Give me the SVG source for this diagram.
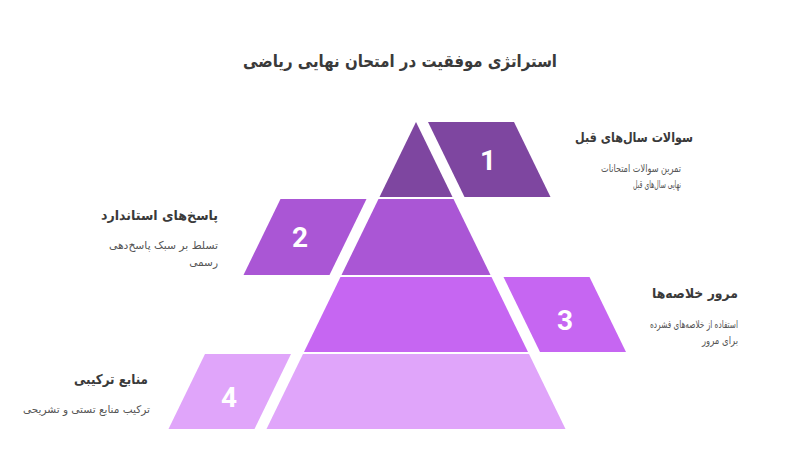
<svg xmlns="http://www.w3.org/2000/svg" width="800" height="450" viewBox="0 0 800 450">
<style>
.title{font-family:"DejaVu Sans",sans-serif;font-weight:bold;font-size:17px;fill:#3a3a3a}
.head{font-family:"DejaVu Sans",sans-serif;font-weight:bold;font-size:13.5px;fill:#3a3a3a}
.desc{font-family:"DejaVu Sans",sans-serif;font-size:10.5px;fill:#555}
.num{font-family:Roboto,"Liberation Sans",sans-serif;font-weight:bold;font-size:28px;fill:#fff}
.c1{fill:#7e46a0}.c2{fill:#aa56d5}.c3{fill:#c666f2}.c4{fill:#e0a5fa}
</style>
<rect width="800" height="450" fill="#fff"/>
<text class="title" x="557" y="67" text-anchor="end" textLength="314" lengthAdjust="spacingAndGlyphs">استراتژی موفقیت در امتحان نهایی ریاضی</text>
<g id="tier1">
<polygon class="c1" points="416,122 452.5,197 379.5,197"/>
<polygon class="c1" points="428,122 514,122 550.5,197 464.5,197"/>
<text class="num" x="488" y="170" text-anchor="middle">1</text>
<text class="head" x="693" y="142" text-anchor="end" textLength="118" lengthAdjust="spacingAndGlyphs">سوالات سال‌های قبل</text>
<text class="desc" x="681" y="172" text-anchor="end" textLength="80" lengthAdjust="spacingAndGlyphs">تمرین سوالات امتحانات</text>
<text class="desc" x="681" y="188" text-anchor="end" textLength="48" lengthAdjust="spacingAndGlyphs">نهایی سال‌های قبل</text>
</g>
<g id="tier2">
<polygon class="c2" points="378.5,199 453.5,199 490.5,275 341.5,275"/>
<polygon class="c2" points="280.5,199 366.5,199 329.5,275 243.5,275"/>
<text class="num" x="300" y="247" text-anchor="middle">2</text>
<text class="head" x="218" y="220" text-anchor="end" textLength="117" lengthAdjust="spacingAndGlyphs">پاسخ‌های استاندارد</text>
<text class="desc" x="218" y="249" text-anchor="end" textLength="109" lengthAdjust="spacingAndGlyphs">تسلط بر سبک پاسخ‌دهی</text>
<text class="desc" x="218" y="266" text-anchor="end">رسمی</text>
</g>
<g id="tier3">
<polygon class="c3" points="340.5,277 491.5,277 528,352 304,352"/>
<polygon class="c3" points="503.5,277 589.5,277 626,352 540,352"/>
<text class="num" x="565" y="330" text-anchor="middle">3</text>
<text class="head" x="738" y="298" text-anchor="end" textLength="86" lengthAdjust="spacingAndGlyphs">مرور خلاصه‌ها</text>
<text class="desc" x="738" y="328" text-anchor="end" textLength="88" lengthAdjust="spacingAndGlyphs">استفاده از خلاصه‌های فشرده</text>
<text class="desc" x="738" y="344" text-anchor="end" textLength="36" lengthAdjust="spacingAndGlyphs">برای مرور</text>
</g>
<g id="tier4">
<polygon class="c4" points="303,354 529,354 565.5,429 266.5,429"/>
<polygon class="c4" points="205,354 291,354 254.5,429 168.5,429"/>
<text class="num" x="229" y="407" text-anchor="middle">4</text>
<text class="head" x="148" y="384" text-anchor="end" textLength="74" lengthAdjust="spacingAndGlyphs">منابع ترکیبی</text>
<text class="desc" x="150" y="413" text-anchor="end" textLength="127" lengthAdjust="spacingAndGlyphs">ترکیب منابع تستی و تشریحی</text>
</g>
<g id="connectors"></g>
</svg>
